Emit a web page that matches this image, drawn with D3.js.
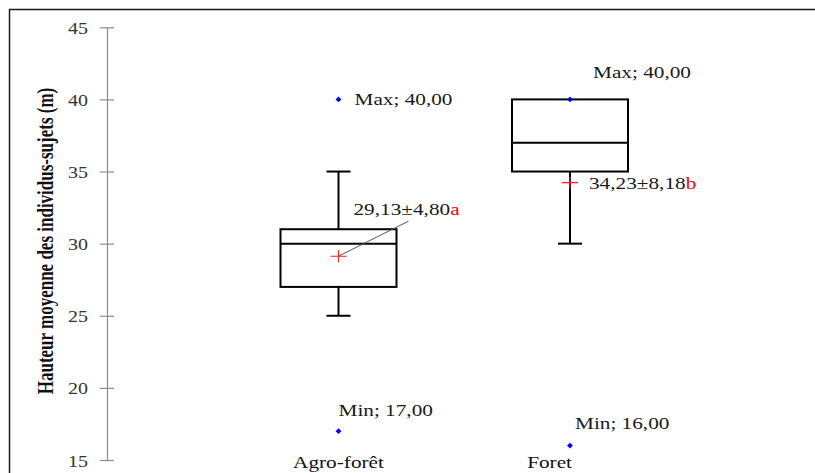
<!DOCTYPE html>
<html>
<head>
<meta charset="utf-8">
<script src="https://cdn.jsdelivr.net/npm/d3@7"></script>
<style>
  html, body { margin: 0; padding: 0; background: #fff; }
  svg { display: block; }
</style>
</head>
<body>
<svg id="chart" width="815" height="473"></svg>
<script>
// Box-plot summary per stand type
const categories = ["Agro-forêt", "Foret"];
const q1Values = [27, 35];
const medianValues = [30, 37];
const q3Values = [31, 40];
const whiskerLow = [25, 30];
const whiskerHigh = [35, 40];
const minValues = [17, 16];
const maxValues = [40, 40];
const meanValues = [29.13, 34.23];
const sdValues = [4.80, 8.18];
const groupLetters = ["a", "b"];
const yTicks = [15, 20, 25, 30, 35, 40, 45];

const W = 815, H = 473;
const serif = "'Liberation Serif', 'Times New Roman', serif";
const SX = 1.25; // horizontal stretch applied to the text

const svg = d3.select("#chart");

const y = d3.scaleLinear().domain([15, 45]).range([460, 27.3]);
const x = d3.scalePoint().domain(categories).range([338.5, 570]);

const fmt = v => d3.format(".2f")(v).replace(".", ",");

// outer frame
svg.append("rect")
  .attr("x", 9.5).attr("y", 9.5)
  .attr("width", W + 20).attr("height", H + 20)
  .attr("fill", "none").attr("stroke", "#1a1a1a").attr("stroke-width", 1.5);

// helper: stretched text
function label(g, px, py, parts, opts = {}) {
  const t = g.append("text")
    .attr("transform", `translate(${px},${py}) scale(${SX},1)`)
    .attr("font-family", serif)
    .attr("font-size", opts.size || 17)
    .attr("fill", opts.fill || "#1a1a1a")
    .attr("text-anchor", opts.anchor || "start");
  parts.forEach(p => t.append("tspan").attr("fill", p.fill || null).text(p.text));
  return t;
}

// y axis
const axisX = 107;
const yAxis = svg.append("g").attr("transform", `translate(${axisX},0)`)
  .call(d3.axisLeft(y).tickValues(yTicks).tickSize(7).tickSizeOuter(0).tickPadding(0));
yAxis.select(".domain").attr("stroke", "#8c8c8c").attr("stroke-width", 1.2);
yAxis.selectAll(".tick line").attr("x2", 7).attr("x1", -7).attr("stroke", "#8c8c8c").attr("stroke-width", 1.2);
yAxis.selectAll(".tick text").remove();
yAxis.selectAll(".tick").each(function(d) {
  label(d3.select(this), -19, 6, [{ text: String(d) }], { anchor: "end", size: 16, fill: "#333" });
});

// y axis title
svg.append("text")
  .attr("transform", `translate(53,241) scale(1.4,1) rotate(-90)`)
  .attr("font-family", serif).attr("font-weight", "bold").attr("font-size", 17)
  .attr("text-anchor", "middle").attr("fill", "#111")
  .text("Hauteur moyenne des individus-sujets  (m)");

const boxW = 116, capW = 24;
const g = svg.append("g");

categories.forEach((c, i) => {
  const cx = x(c);
  // whiskers
  if (whiskerHigh[i] > q3Values[i]) {
    g.append("line").attr("x1", cx).attr("x2", cx)
      .attr("y1", y(q3Values[i])).attr("y2", y(whiskerHigh[i]))
      .attr("stroke", "#000").attr("stroke-width", 2);
    g.append("line").attr("x1", cx - capW / 2).attr("x2", cx + capW / 2)
      .attr("y1", y(whiskerHigh[i])).attr("y2", y(whiskerHigh[i]))
      .attr("stroke", "#000").attr("stroke-width", 2);
  }
  if (whiskerLow[i] < q1Values[i]) {
    g.append("line").attr("x1", cx).attr("x2", cx)
      .attr("y1", y(q1Values[i])).attr("y2", y(whiskerLow[i]))
      .attr("stroke", "#000").attr("stroke-width", 2);
    g.append("line").attr("x1", cx - capW / 2).attr("x2", cx + capW / 2)
      .attr("y1", y(whiskerLow[i])).attr("y2", y(whiskerLow[i]))
      .attr("stroke", "#000").attr("stroke-width", 2);
  }
  // box
  g.append("rect")
    .attr("x", cx - boxW / 2).attr("y", y(q3Values[i]))
    .attr("width", boxW).attr("height", y(q1Values[i]) - y(q3Values[i]))
    .attr("fill", "none").attr("stroke", "#000").attr("stroke-width", 2);
  g.append("line").attr("x1", cx - boxW / 2).attr("x2", cx + boxW / 2)
    .attr("y1", y(medianValues[i])).attr("y2", y(medianValues[i]))
    .attr("stroke", "#000").attr("stroke-width", 2);

  // min / max points
  [minValues[i], maxValues[i]].forEach(v => {
    g.append("path")
      .attr("d", d3.symbol(d3.symbolDiamond2, 22)())
      .attr("transform", `translate(${cx},${y(v)})`)
      .attr("fill", "#0000ff");
  });

  // mean marker
  const my = y(meanValues[i]);
  g.append("path")
    .attr("d", `M${cx - 8},${my}H${cx + 8}M${cx},${my - 6}V${my + 6}`)
    .attr("stroke", "#ff2020").attr("stroke-width", 1.1).attr("fill", "none");
});

// annotations
const ax = x(categories[0]), fx = x(categories[1]);
const meanText = i => [{ text: `${fmt(meanValues[i])}±${fmt(sdValues[i])}` }, { text: groupLetters[i], fill: "#ff0000" }];

label(g, ax + 16, y(maxValues[0]) + 6, [{ text: `Max; ${fmt(maxValues[0])}` }]);
label(g, ax + 15, y(meanValues[0]) - 41, meanText(0));
g.append("line")
  .attr("x1", ax).attr("y1", y(meanValues[0]))
  .attr("x2", ax + 70).attr("y2", y(meanValues[0]) - 35)
  .attr("stroke", "#555").attr("stroke-width", 1);
label(g, ax, y(minValues[0]) - 15.5, [{ text: `Min; ${fmt(minValues[0])}` }]);

label(g, fx + 23, y(maxValues[1]) - 21, [{ text: `Max; ${fmt(maxValues[1])}` }]);
label(g, fx + 19, y(meanValues[1]) + 6, meanText(1));
label(g, fx + 5, y(minValues[1]) - 17, [{ text: `Min; ${fmt(minValues[1])}` }]);

// category labels
label(g, ax, 468, [{ text: categories[0] }], { anchor: "middle", fill: "#111" });
label(g, fx + 2, 468, [{ text: categories[1] }], { anchor: "end", fill: "#111" });
</script>
</body>
</html>
